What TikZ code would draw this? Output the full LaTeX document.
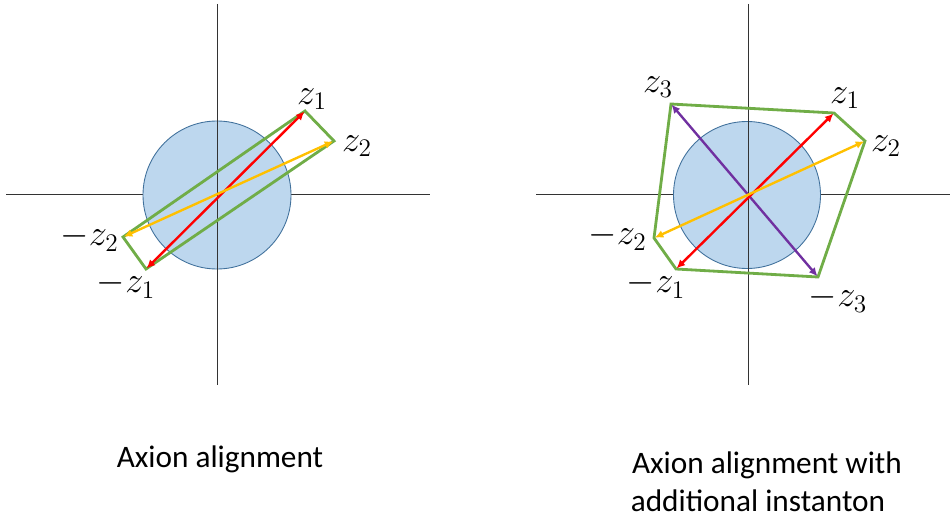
\documentclass[tikz,border=0pt]{standalone}
\usepackage{fontspec}
\setmainfont{Carlito}
\usetikzlibrary{arrows.meta}

\definecolor{discfill}{RGB}{189,215,238}
\definecolor{discline}{RGB}{65,113,156}
\definecolor{hullgreen}{RGB}{112,173,71}
\definecolor{vecyellow}{RGB}{255,192,0}
\definecolor{vecpurple}{RGB}{112,48,160}

\begin{document}
\begin{tikzpicture}[
  x=0.02cm, y=-0.02cm,
  axis/.style={draw=black!80, line width=0.5pt},
  disc/.style={draw=discline, fill=discfill, line width=0.5pt},
  hull/.style={draw=hullgreen, line width=1.6pt, line join=miter},
  vec/.style={{Latex[length=1.7mm, width=1.6mm]}-{Latex[length=1.7mm, width=1.6mm]},
              line width=1.35pt, shorten <=0.5pt, shorten >=0.5pt},
  redvec/.style={vec, draw=red},
  yelvec/.style={vec, draw=vecyellow},
  purvec/.style={vec, draw=vecpurple},
  lbl/.style={inner sep=0pt, font=\fontsize{21}{24}\selectfont},
  caption/.style={inner sep=0pt, align=center, font=\fontsize{17.8}{21}\selectfont},
]
\useasboundingbox (0,0) rectangle (950,517);

% ------------------- LEFT: alignment -------------------
\coordinate (ltop) at (217,4);
\coordinate (lbot) at (217,385);
\coordinate (lleft) at (6,194);
\coordinate (lright) at (430,194);
\draw[axis] (lleft) -- (lright);
\draw[disc] (217,195) circle (74);
\draw[axis] (ltop) -- (lbot);

\coordinate (z1) at (305,111);
\coordinate (z2) at (334,141);
\coordinate (mz1) at (146,269);
\coordinate (mz2) at (123,237);

\draw[hull] (z1) -- (z2) -- (mz1) -- (mz2) -- cycle;
\draw[redvec] (mz1) -- (z1);
\draw[yelvec] (mz2) -- (z2);

\node[lbl] (lz1) at (312,99) {$z_1$};
\node[lbl] (lz2) at (357,146) {$z_2$};
\node[lbl, anchor=east] (lmz2) at (119,238) {$-z_2$};
\node[lbl] (lmz1) at (126,285) {$-z_1$};

% ------------------- RIGHT: with extra instanton -------------------
\coordinate (rtop) at (748,4);
\coordinate (rbot) at (748,385);
\coordinate (rleft) at (536,194);
\coordinate (rright) at (950,194);
\draw[axis] (rleft) -- (rright);
\draw[disc] (747,195) circle (73.5);
\draw[axis] (rtop) -- (rbot);

\coordinate (w3) at (671,104);
\coordinate (w1) at (834,113);
\coordinate (w2) at (865,141);
\coordinate (mw3) at (818,277);
\coordinate (mw1) at (676,269);
\coordinate (mw2) at (654,238);

\draw[hull] (w3) -- (w1) -- (w2) -- (mw3) -- (mw1) -- (mw2) -- cycle;
\draw[purvec] (mw3) -- (w3);
\draw[redvec] (mw1) -- (w1);
\draw[yelvec] (mw2) -- (w2);

\node[lbl] (rz3) at (658,87) {$z_3$};
\node[lbl] (rz1) at (845,98) {$z_1$};
\node[lbl] (rz2) at (886,146) {$z_2$};
\node[lbl, anchor=east] (rmz2) at (647,237) {$-z_2$};
\node[lbl] (rmz1) at (656,285) {$-z_1$};
\node[lbl] (rmz3) at (838,299) {$-z_3$};

% ------------------- captions -------------------
\node[caption, anchor=base] (capl) at (220,467) {Axion alignment};
\node[caption, anchor=base] (capr) at (767,473) {Axion alignment with};
\node[caption, anchor=base] (capr2) at (758,511) {additional instanton};

\end{tikzpicture}
\end{document}
